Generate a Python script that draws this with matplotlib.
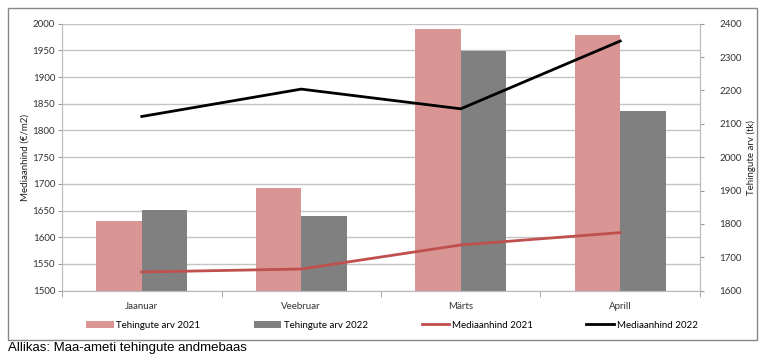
import matplotlib.pyplot as plt
from matplotlib.patches import Rectangle
import numpy as np

months = ['Jaanuar', 'Veebruar', 'Märts', 'Aprill']
tehingud_2021 = [1630, 1692, 1990, 1979]
tehingud_2022 = [1652, 1640, 1949, 1837]
hind_2021 = [1656, 1665, 1737, 1774]
hind_2022 = [2122, 2204, 2145, 2348]

plt.rcParams['font.family'] = 'Lato'
fig = plt.figure(figsize=(7.64, 3.6), dpi=100)
ax = fig.add_axes([0.0812, 0.1925, 0.835, 0.7417])
ax2 = ax.twinx()

x = np.arange(len(months))
w = 0.285
ax.bar(x - w / 2, tehingud_2021, w, color='#D99594', zorder=2, label='Tehingute arv 2021')
ax.bar(x + w / 2, tehingud_2022, w, color='#808080', zorder=2, label='Tehingute arv 2022')
ax2.plot(x, hind_2021, color='#C0504D', lw=2, label='Mediaanhind 2021')
ax2.plot(x, hind_2022, color='black', lw=2, label='Mediaanhind 2022')

ax.set_xlim(-0.5, 3.5)
ax.set_ylim(1500, 2000)
ax.set_yticks(range(1500, 2001, 50))
ax2.set_ylim(1600, 2400)
ax2.set_yticks(range(1600, 2401, 100))
ax.yaxis.grid(True, color='#C4C4C4', lw=1)
ax.set_axisbelow(True)

ax.set_xticks(x)
ax.set_xticklabels(months)
ax.set_xticks(np.arange(-0.5, 4, 1), minor=True)
ax.tick_params(axis='x', which='major', length=0, pad=8)
ax.tick_params(axis='x', which='minor', length=4, color='#999999')
ax.tick_params(axis='y', length=3, color='#999999', pad=2)
ax2.tick_params(axis='y', length=3, color='#999999', pad=11)
for a in (ax, ax2):
    a.tick_params(labelsize=7, labelcolor='#333333')
    for s in a.spines.values():
        s.set_color('#BBBBBB')
ax.spines['top'].set_visible(False)
ax2.spines['top'].set_visible(False)

ax.set_ylabel('Mediaanhind (€/m2)', fontsize=7, color='#222222', labelpad=2)
ax2.set_ylabel('Tehingute arv (tk)', fontsize=7, color='#222222', labelpad=3)

h1, l1 = ax.get_legend_handles_labels()
h2, l2 = ax2.get_legend_handles_labels()
fig.legend(h1 + h2, l1 + l2, ncol=4, loc='center', bbox_to_anchor=(0.513, 0.097),
           frameon=False, fontsize=7, handlelength=2.8, handleheight=0.8,
           columnspacing=5.5, handletextpad=0.3)

fig.patches.append(Rectangle((8 / 764, 1 - 340 / 360), 749 / 764, 332 / 360,
                             transform=fig.transFigure, fill=False,
                             edgecolor='#888888', lw=1))
fig.text(8 / 764, 1 - 348 / 360, 'Allikas: Maa-ameti tehingute andmebaas',
         fontsize=9.5, family='Liberation Sans', va='center', ha='left')

fig.savefig('out.png', dpi=100)
